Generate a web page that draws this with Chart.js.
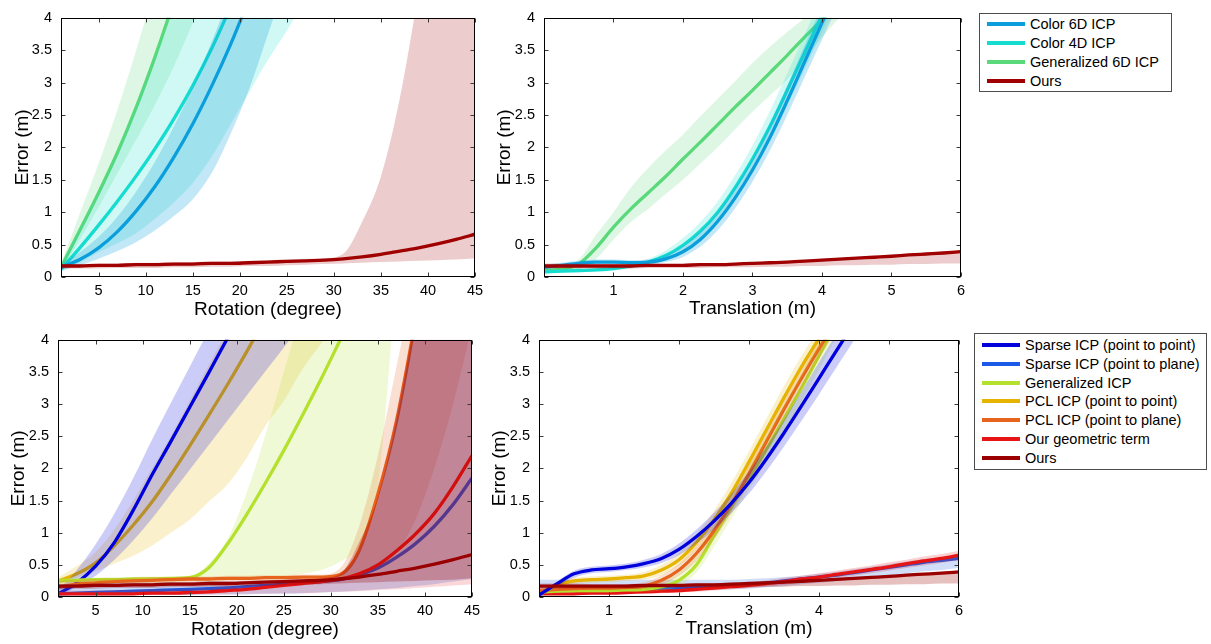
<!DOCTYPE html>
<html>
<head>
<meta charset="utf-8">
<title>Registration error vs. initial offset</title>
<script src="https://cdn.jsdelivr.net/npm/chart.js@4.4.1/dist/chart.umd.min.js"></script>
<style>
  body { margin: 0; width: 1211px; height: 644px; background: #fff; position: relative; overflow: hidden;
         font-family: "Liberation Sans", Arial, sans-serif; }
  canvas { position: absolute; }
  .legend { position: absolute; border: 1px solid #4d4d4d; background: #fff; box-sizing: border-box; }
  .legend .item { position: absolute; left: 7px; height: 18px; line-height: 18px; display: flex; align-items: center;
                  font-size: 14.5px; color: #000; white-space: nowrap; }
  .legend .swatch { width: 38px; height: 4px; margin-right: 5px; flex: none; }
</style>
</head>
<body>
<canvas id="rotTop" width="490" height="322" style="left:0;top:0"></canvas>
<canvas id="traTop" width="490" height="322" style="left:480px;top:0"></canvas>
<canvas id="rotBottom" width="490" height="322" style="left:0;top:322px"></canvas>
<canvas id="traBottom" width="490" height="322" style="left:480px;top:322px"></canvas>
<div class="legend" id="legendTop" style="left:979px;top:13px;width:193px;height:79px"></div>
<div class="legend" id="legendBottom" style="left:974px;top:333px;width:233px;height:137px"></div>

<script>
// x grids and tick labels
const ROT = [1, 3, 5, 7, 9, 11, 13, 15, 17, 19, 21, 23, 25, 27, 29, 31, 33, 35, 37, 39, 41, 43, 45];
const TRA = [0, 0.25, 0.5, 0.75, 1, 1.25, 1.5, 1.75, 2, 2.25, 2.5, 2.75, 3, 3.25, 3.5, 3.75, 4, 4.25, 4.5, 4.75, 5, 5.25, 5.5, 5.75, 6];
const ROT_TICKS = [5, 10, 15, 20, 25, 30, 35, 40, 45];
const TRA_TICKS = [1, 2, 3, 4, 5, 6];
const ERR_TICKS = [0, 0.5, 1, 1.5, 2, 2.5, 3, 3.5, 4];

// colours
const C6 = '#0a9fdc', C4 = '#14dccf', G6 = '#5ad97a', OURS = '#a00000';
const SP = '#0000dc', SL = '#1a5ae6', GI = '#b4e12d', PP = '#e6b400', PL = '#e6641e', GT = '#e61414', OURS2 = '#9b0000';

// ---- top left: rotation, colour methods ----
const c6RotMean = [0.15, 0.27, 0.45, 0.7, 1.02, 1.4, 1.85, 2.36, 2.94, 3.58, 4.29];
const c6RotLo = [0.1, 0.18, 0.28, 0.4, 0.54, 0.72, 0.94, 1.2, 1.6, 2.2, 2.9, 3.75, 4.6];
const c6RotHi = [0.2, 0.38, 0.62, 0.93, 1.32, 1.78, 2.32, 2.93, 3.62, 4.38, 5.2, 6.1, 7.0];
const c4RotMean = [0.12, 0.45, 0.8, 1.17, 1.56, 1.98, 2.44, 2.95, 3.52, 4.16];
const c4RotLo = [0.08, 0.22, 0.38, 0.52, 0.68, 0.9, 1.15, 1.45, 1.85, 2.35, 2.85, 3.35, 3.8, 4.3];
const c4RotHi = [0.18, 0.72, 1.28, 1.9, 2.6, 3.36, 4.18, 5.0, 5.8, 6.6, 7.4, 8.2, 9.0, 9.8];
const g6RotMean = [0.15, 0.72, 1.3, 1.92, 2.62, 3.4, 4.25];
const g6RotLo = [0.1, 0.58, 1.08, 1.6, 2.12, 2.66, 3.25, 3.92, 4.6];
const g6RotHi = [0.2, 0.98, 1.75, 2.58, 3.5, 4.5, 5.5, 6.5, 7.5];
const oursRotMean = [0.17, 0.17, 0.18, 0.18, 0.19, 0.19, 0.2, 0.2, 0.21, 0.21, 0.22, 0.23, 0.24, 0.25, 0.26, 0.28, 0.31, 0.35, 0.4, 0.45, 0.51, 0.58, 0.66];
const oursRotLo = [0.13, 0.13, 0.13, 0.14, 0.14, 0.14, 0.15, 0.15, 0.16, 0.16, 0.17, 0.17, 0.18, 0.19, 0.2, 0.21, 0.22, 0.23, 0.24, 0.25, 0.26, 0.27, 0.29];
const oursRotHi = [0.2, 0.2, 0.21, 0.21, 0.22, 0.22, 0.23, 0.23, 0.24, 0.24, 0.25, 0.26, 0.27, 0.28, 0.29, 0.36, 0.85, 1.55, 2.75, 4.4, 6.2, 8.0, 10.0];

// ---- top right: translation, colour methods ----
const c6TraMean = [0.15, 0.18, 0.21, 0.23, 0.23, 0.22, 0.23, 0.28, 0.39, 0.58, 0.86, 1.22, 1.65, 2.15, 2.72, 3.32, 3.92, 4.5];
const c6TraLo = [0.12, 0.15, 0.18, 0.2, 0.2, 0.19, 0.19, 0.23, 0.31, 0.47, 0.72, 1.06, 1.47, 1.95, 2.5, 3.08, 3.66, 4.24];
const c6TraHi = [0.19, 0.22, 0.25, 0.27, 0.27, 0.26, 0.27, 0.34, 0.48, 0.7, 1.0, 1.38, 1.83, 2.36, 2.95, 3.57, 4.18, 4.78];
const c4TraMean = [0.08, 0.09, 0.1, 0.11, 0.13, 0.17, 0.23, 0.33, 0.49, 0.71, 1.0, 1.38, 1.82, 2.32, 2.88, 3.46, 4.04];
const c4TraLo = [0.05, 0.06, 0.07, 0.08, 0.1, 0.13, 0.18, 0.26, 0.39, 0.58, 0.85, 1.2, 1.62, 2.1, 2.64, 3.2, 3.78, 4.36];
const c4TraHi = [0.11, 0.12, 0.13, 0.14, 0.17, 0.21, 0.28, 0.41, 0.6, 0.85, 1.17, 1.57, 2.03, 2.56, 3.14, 3.74, 4.34, 4.94];
const g6TraMean = [0.1, 0.12, 0.2, 0.45, 0.77, 1.05, 1.3, 1.55, 1.82, 2.08, 2.35, 2.62, 2.88, 3.15, 3.42, 3.7, 3.97, 4.25];
const g6TraLo = [0.07, 0.08, 0.12, 0.28, 0.58, 0.85, 1.05, 1.28, 1.5, 1.75, 2.0, 2.28, 2.55, 2.8, 3.05, 3.38, 3.7, 4.0, 4.3];
const g6TraHi = [0.13, 0.16, 0.27, 0.65, 1.0, 1.38, 1.68, 1.95, 2.2, 2.48, 2.75, 3.02, 3.3, 3.55, 3.78, 4.0, 4.25, 4.5, 4.75];
const oursTraMean = [0.17, 0.17, 0.17, 0.17, 0.17, 0.17, 0.18, 0.18, 0.18, 0.19, 0.19, 0.2, 0.21, 0.22, 0.23, 0.245, 0.26, 0.275, 0.29, 0.305, 0.32, 0.34, 0.355, 0.37, 0.39];
const oursTraLo = [0.13, 0.13, 0.13, 0.13, 0.13, 0.13, 0.14, 0.14, 0.14, 0.14, 0.15, 0.15, 0.15, 0.16, 0.16, 0.17, 0.17, 0.18, 0.18, 0.19, 0.19, 0.2, 0.2, 0.21, 0.21];
const oursTraHi = [0.21, 0.21, 0.21, 0.2, 0.2, 0.2, 0.2, 0.2, 0.2, 0.21, 0.21, 0.22, 0.23, 0.24, 0.25, 0.26, 0.28, 0.29, 0.31, 0.32, 0.34, 0.36, 0.37, 0.39, 0.41];

// ---- bottom left: rotation, geometric methods ----
const spRotMean = [0.05, 0.22, 0.48, 0.85, 1.35, 1.9, 2.42, 2.95, 3.48, 4.02, 4.55];
const spRotLo = [0.02, 0.15, 0.33, 0.58, 0.88, 1.22, 1.6, 1.98, 2.36, 2.74, 3.12, 3.5, 3.88, 4.26];
const spRotHi = [0.1, 0.42, 0.82, 1.3, 1.85, 2.45, 3.02, 3.58, 4.14, 4.7, 5.26, 5.82, 6.38, 6.94];
const ppRotMean = [0.25, 0.36, 0.53, 0.8, 1.12, 1.48, 1.9, 2.35, 2.82, 3.3, 3.8, 4.32];
const ppRotLo = [0.2, 0.3, 0.4, 0.52, 0.64, 0.8, 1.0, 1.2, 1.48, 1.75, 2.15, 2.65, 3.05, 3.55, 3.95, 4.4];
const ppRotHi = [0.3, 0.48, 0.7, 1.05, 1.5, 2.0, 2.5, 3.05, 3.6, 4.15, 4.7, 5.25, 5.8, 6.35, 6.9, 7.45];
const giRotMean = [0.25, 0.26, 0.27, 0.27, 0.28, 0.28, 0.29, 0.3, 0.45, 0.82, 1.27, 1.76, 2.28, 2.83, 3.4, 4.0];
const giRotLo = [0.2, 0.2, 0.21, 0.21, 0.22, 0.22, 0.23, 0.24, 0.25, 0.26, 0.28, 0.3, 0.32, 0.36, 0.42, 0.55, 0.8, 1.7, 5.0];
const giRotHi = [0.3, 0.3, 0.3, 0.31, 0.31, 0.32, 0.32, 0.33, 0.52, 0.9, 1.6, 2.5, 3.5, 4.5, 5.5, 6.5, 7.5, 8.5, 9.5];
const plRotMean = [0.15, 0.2, 0.22, 0.24, 0.25, 0.26, 0.27, 0.28, 0.28, 0.29, 0.29, 0.3, 0.3, 0.31, 0.31, 0.35, 0.72, 1.6, 2.75, 4.3];
const plRotLo = [0.1, 0.15, 0.17, 0.19, 0.2, 0.21, 0.22, 0.23, 0.23, 0.24, 0.24, 0.25, 0.25, 0.26, 0.26, 0.28, 0.32, 0.45, 0.7, 1.2, 2.0, 3.0, 4.2];
const plRotHi = [0.25, 0.27, 0.28, 0.29, 0.3, 0.31, 0.31, 0.32, 0.32, 0.33, 0.33, 0.34, 0.34, 0.35, 0.35, 0.45, 1.1, 2.2, 3.6, 5.0, 6.4, 7.8, 9.2];
const slRotMean = [0.05, 0.06, 0.07, 0.08, 0.09, 0.1, 0.11, 0.12, 0.13, 0.14, 0.16, 0.18, 0.2, 0.22, 0.24, 0.27, 0.34, 0.45, 0.62, 0.83, 1.1, 1.44, 1.85];
const slRotLo = [0.02, 0.02, 0.02, 0.02, 0.03, 0.03, 0.03, 0.03, 0.04, 0.04, 0.04, 0.05, 0.05, 0.06, 0.07, 0.08, 0.1, 0.12, 0.14, 0.17, 0.2, 0.24, 0.28];
const slRotHi = [0.2, 0.2, 0.21, 0.21, 0.22, 0.22, 0.23, 0.23, 0.24, 0.24, 0.25, 0.25, 0.26, 0.26, 0.27, 0.32, 0.7, 1.5, 2.8, 4.3, 6.0, 7.5, 9.0];
const gtRotMean = [0.05, 0.05, 0.05, 0.05, 0.05, 0.06, 0.06, 0.07, 0.08, 0.1, 0.12, 0.15, 0.18, 0.21, 0.24, 0.28, 0.36, 0.5, 0.72, 0.98, 1.3, 1.72, 2.2];
const gtRotLo = [0.03, 0.03, 0.03, 0.03, 0.03, 0.03, 0.03, 0.04, 0.04, 0.04, 0.05, 0.05, 0.06, 0.06, 0.07, 0.08, 0.09, 0.11, 0.12, 0.14, 0.16, 0.18, 0.2];
const gtRotHi = [0.1, 0.1, 0.1, 0.11, 0.11, 0.12, 0.12, 0.13, 0.14, 0.16, 0.18, 0.2, 0.23, 0.26, 0.3, 0.36, 0.75, 1.6, 2.9, 4.4, 6.0, 7.5, 9.0];

// ---- bottom right: translation, geometric methods ----
const spTraMean = [0.03, 0.2, 0.36, 0.42, 0.44, 0.47, 0.52, 0.6, 0.74, 0.94, 1.18, 1.46, 1.78, 2.15, 2.55, 2.97, 3.4, 3.83, 4.26];
const spTraLo = [0.01, 0.15, 0.3, 0.37, 0.39, 0.42, 0.46, 0.53, 0.65, 0.83, 1.05, 1.31, 1.61, 1.96, 2.34, 2.74, 3.15, 3.57, 3.99, 4.4];
const spTraHi = [0.06, 0.24, 0.41, 0.47, 0.49, 0.52, 0.58, 0.67, 0.83, 1.05, 1.31, 1.61, 1.95, 2.34, 2.76, 3.2, 3.65, 4.09, 4.53, 4.97];
const ppTraMean = [0.03, 0.18, 0.25, 0.27, 0.28, 0.3, 0.33, 0.42, 0.58, 0.85, 1.2, 1.62, 2.1, 2.6, 3.1, 3.58, 4.02, 4.45];
const ppTraLo = [0.01, 0.13, 0.2, 0.22, 0.23, 0.25, 0.27, 0.34, 0.48, 0.73, 1.06, 1.46, 1.93, 2.42, 2.92, 3.41, 3.86, 4.3];
const ppTraHi = [0.06, 0.23, 0.3, 0.32, 0.33, 0.35, 0.39, 0.5, 0.68, 0.97, 1.34, 1.78, 2.27, 2.78, 3.28, 3.75, 4.18, 4.6];
const plTraMean = [0.1, 0.12, 0.13, 0.14, 0.14, 0.15, 0.17, 0.26, 0.42, 0.68, 1.03, 1.45, 1.92, 2.42, 2.92, 3.4, 3.86, 4.3];
const plTraLo = [0.07, 0.09, 0.1, 0.1, 0.1, 0.11, 0.12, 0.19, 0.33, 0.56, 0.9, 1.3, 1.76, 2.25, 2.75, 3.23, 3.7, 4.15];
const plTraHi = [0.14, 0.16, 0.17, 0.18, 0.18, 0.2, 0.23, 0.34, 0.52, 0.8, 1.17, 1.6, 2.08, 2.59, 3.09, 3.57, 4.02, 4.45];
const giTraMean = [0.08, 0.09, 0.1, 0.1, 0.1, 0.11, 0.12, 0.16, 0.26, 0.5, 0.95, 1.4, 1.85, 2.3, 2.77, 3.25, 3.75, 4.27];
const giTraLo = [0.05, 0.06, 0.07, 0.07, 0.07, 0.08, 0.08, 0.1, 0.17, 0.38, 0.78, 1.22, 1.67, 2.11, 2.57, 3.04, 3.53, 4.04];
const giTraHi = [0.12, 0.13, 0.14, 0.14, 0.14, 0.15, 0.17, 0.24, 0.38, 0.65, 1.12, 1.58, 2.03, 2.5, 2.98, 3.47, 3.98, 4.5];
const slTraMean = [0.1, 0.1, 0.11, 0.11, 0.12, 0.12, 0.13, 0.13, 0.14, 0.15, 0.17, 0.18, 0.2, 0.22, 0.25, 0.28, 0.31, 0.34, 0.38, 0.42, 0.46, 0.5, 0.54, 0.57, 0.6];
const slTraLo = [0.06, 0.06, 0.07, 0.07, 0.07, 0.08, 0.08, 0.08, 0.09, 0.1, 0.11, 0.12, 0.13, 0.15, 0.17, 0.2, 0.22, 0.25, 0.28, 0.31, 0.34, 0.37, 0.4, 0.42, 0.45];
const slTraHi = [0.27, 0.27, 0.27, 0.27, 0.27, 0.27, 0.27, 0.27, 0.27, 0.27, 0.27, 0.27, 0.28, 0.29, 0.31, 0.33, 0.36, 0.39, 0.43, 0.47, 0.51, 0.55, 0.59, 0.62, 0.65];
const gtTraMean = [0.05, 0.05, 0.05, 0.06, 0.06, 0.07, 0.08, 0.09, 0.1, 0.12, 0.14, 0.16, 0.18, 0.21, 0.24, 0.28, 0.31, 0.35, 0.39, 0.43, 0.47, 0.52, 0.56, 0.6, 0.65];
const gtTraLo = [0.03, 0.03, 0.03, 0.04, 0.04, 0.05, 0.05, 0.06, 0.07, 0.08, 0.1, 0.12, 0.14, 0.16, 0.19, 0.22, 0.25, 0.29, 0.33, 0.37, 0.41, 0.45, 0.49, 0.53, 0.57];
const gtTraHi = [0.08, 0.08, 0.08, 0.09, 0.09, 0.1, 0.11, 0.12, 0.13, 0.15, 0.18, 0.2, 0.23, 0.26, 0.3, 0.33, 0.37, 0.41, 0.45, 0.49, 0.54, 0.58, 0.63, 0.67, 0.72];

// legends
const topLegend = [['Color 6D ICP', C6], ['Color 4D ICP', C4], ['Generalized 6D ICP', G6], ['Ours', OURS]];
const bottomLegend = [['Sparse ICP (point to point)', SP], ['Sparse ICP (point to plane)', SL], ['Generalized ICP', GI],
    ['PCL ICP (point to point)', PP], ['PCL ICP (point to plane)', PL], ['Our geometric term', GT], ['Ours', OURS2]];

const FONT = '"Liberation Sans", Arial, sans-serif';
Chart.defaults.font.family = FONT;
Chart.defaults.font.size = 14.5;
Chart.defaults.color = '#000';

function rgba(hex, a) {
    const n = parseInt(hex.slice(1), 16);
    return `rgba(${(n >> 16) & 255}, ${(n >> 8) & 255}, ${n & 255}, ${a})`;
}

function toPoints(xs, ys) {
    return ys.map((y, i) => ({ x: xs[i], y: y }));
}

// each series -> lower edge, upper edge filled to it, then the mean line
function buildDatasets(series, xs) {
    const sets = [];
    series.forEach(s => {
        sets.push({ label: s.label + ' low', data: toPoints(xs, s.lo), borderColor: 'rgba(0,0,0,0)', borderWidth: 0, fill: false });
        sets.push({ label: s.label + ' high', data: toPoints(xs, s.hi), borderColor: 'rgba(0,0,0,0)', borderWidth: 0,
            fill: '-1', backgroundColor: rgba(s.color, s.alpha) });
        sets.push({ label: s.label, data: toPoints(xs, s.mean), borderColor: s.color, borderWidth: 3.3, fill: false });
    });
    sets.forEach((d, i) => {
        d.order = -i;
        d.pointRadius = 0;
        d.cubicInterpolationMode = 'monotone';
        d.borderJoinStyle = 'round';
        d.clip = 0;
    });
    return sets;
}

// black box with inward ticks on all four sides
const framePlugin = {
    id: 'frame',
    afterDraw(chart) {
        const { ctx, chartArea: a, scales: { x, y } } = chart;
        const L = Math.round(a.left) + 0.5, R = Math.round(a.right) - 0.5;
        const T = Math.round(a.top) + 0.5, B = Math.round(a.bottom) - 0.5;
        ctx.save();
        ctx.lineWidth = 1;
        ctx.strokeStyle = '#3a3a3a';
        ctx.beginPath();
        x.ticks.forEach(t => {
            const px = Math.round(x.getPixelForValue(t.value)) + 0.5;
            ctx.moveTo(px, B); ctx.lineTo(px, B - 4);
            ctx.moveTo(px, T); ctx.lineTo(px, T + 4);
        });
        y.ticks.forEach(t => {
            const py = Math.round(y.getPixelForValue(t.value)) + 0.5;
            ctx.moveTo(L, py); ctx.lineTo(L + 4, py);
            ctx.moveTo(R, py); ctx.lineTo(R - 4, py);
        });
        ctx.stroke();
        ctx.strokeStyle = '#000';
        ctx.strokeRect(L, T, R - L, B - T);
        ctx.restore();
    }
};

function makeChart(id, cfg) {
    return new Chart(document.getElementById(id), {
        type: 'line',
        data: { datasets: buildDatasets(cfg.series, cfg.xs) },
        options: {
            responsive: false,
            animation: false,
            events: [],
            layout: { padding: { left: 0, right: cfg.right, top: cfg.top, bottom: 0 } },
            plugins: { legend: { display: false }, tooltip: { enabled: false } },
            scales: {
                x: {
                    type: 'linear',
                    min: cfg.xMin,
                    max: cfg.xMax,
                    afterBuildTicks: s => { s.ticks = cfg.xTicks.map(v => ({ value: v })); },
                    afterFit: s => { s.height = cfg.xHeight; },
                    ticks: { padding: 5, maxRotation: 0, autoSkip: false, callback: v => String(v) },
                    grid: { display: false, drawTicks: false },
                    border: { display: false },
                    title: { display: true, text: cfg.xTitle, font: { size: 19 }, padding: { top: 0, bottom: cfg.xTitlePad } }
                },
                y: {
                    min: 0,
                    max: 4,
                    afterBuildTicks: s => { s.ticks = ERR_TICKS.map(v => ({ value: v })); },
                    afterFit: s => { s.width = cfg.yWidth; },
                    ticks: { padding: 9, autoSkip: false, callback: v => String(v) },
                    grid: { display: false, drawTicks: false },
                    border: { display: false },
                    title: { display: true, text: 'Error (m)', font: { size: 19 }, padding: { top: cfg.yTitlePad, bottom: 0 } }
                }
            }
        },
        plugins: [framePlugin]
    });
}

function ser(label, color, alpha, mean, lo, hi) {
    return { label, color, alpha, mean, lo, hi };
}

makeChart('rotTop', {
    xs: ROT, xMin: 1, xMax: 45, xTicks: ROT_TICKS, xTitle: 'Rotation (degree)',
    right: 15, top: 12, xHeight: 45, yWidth: 61, yTitlePad: 11, xTitlePad: 1,
    series: [
        ser('Generalized 6D ICP', G6, 0.2, g6RotMean, g6RotLo, g6RotHi),
        ser('Color 4D ICP', C4, 0.2, c4RotMean, c4RotLo, c4RotHi),
        ser('Color 6D ICP', C6, 0.25, c6RotMean, c6RotLo, c6RotHi),
        ser('Ours', OURS, 0.2, oursRotMean, oursRotLo, oursRotHi)
    ]
});

makeChart('traTop', {
    xs: TRA, xMin: 0, xMax: 6, xTicks: TRA_TICKS, xTitle: 'Translation (m)',
    right: 6, top: 12, xHeight: 45, yWidth: 64, yTitlePad: 13.5, xTitlePad: 1.5,
    series: [
        ser('Generalized 6D ICP', G6, 0.2, g6TraMean, g6TraLo, g6TraHi),
        ser('Color 4D ICP', C4, 0.2, c4TraMean, c4TraLo, c4TraHi),
        ser('Color 6D ICP', C6, 0.25, c6TraMean, c6TraLo, c6TraHi),
        ser('Ours', OURS, 0.2, oursTraMean, oursTraLo, oursTraHi)
    ]
});

makeChart('rotBottom', {
    xs: ROT, xMin: 1, xMax: 45, xTicks: ROT_TICKS, xTitle: 'Rotation (degree)',
    right: 18, top: 10, xHeight: 47, yWidth: 58, yTitlePad: 7, xTitlePad: 3,
    series: [
        ser('PCL ICP (point to point)', PP, 0.2, ppRotMean, ppRotLo, ppRotHi),
        ser('Sparse ICP (point to point)', SP, 0.2, spRotMean, spRotLo, spRotHi),
        ser('Generalized ICP', GI, 0.2, giRotMean, giRotLo, giRotHi),
        ser('PCL ICP (point to plane)', PL, 0.2, plRotMean, plRotLo, plRotHi),
        ser('Sparse ICP (point to plane)', SL, 0.22, slRotMean, slRotLo, slRotHi),
        ser('Our geometric term', GT, 0.17, gtRotMean, gtRotLo, gtRotHi),
        ser('Ours', OURS2, 0.27, oursRotMean, oursRotLo, oursRotHi)
    ]
});

makeChart('traBottom', {
    xs: TRA, xMin: 0, xMax: 6, xTicks: TRA_TICKS, xTitle: 'Translation (m)',
    right: 11, top: 10, xHeight: 47, yWidth: 59, yTitlePad: 8.5, xTitlePad: 4,
    series: [
        ser('Sparse ICP (point to plane)', SL, 0.2, slTraMean, slTraLo, slTraHi),
        ser('Our geometric term', GT, 0.2, gtTraMean, gtTraLo, gtTraHi),
        ser('Generalized ICP', GI, 0.2, giTraMean, giTraLo, giTraHi),
        ser('PCL ICP (point to plane)', PL, 0.2, plTraMean, plTraLo, plTraHi),
        ser('PCL ICP (point to point)', PP, 0.2, ppTraMean, ppTraLo, ppTraHi),
        ser('Sparse ICP (point to point)', SP, 0.2, spTraMean, spTraLo, spTraHi),
        ser('Ours', OURS2, 0.25, oursTraMean, oursTraLo, oursTraHi)
    ]
});

// HTML legends
function buildLegend(id, items, firstCenter, step) {
    const box = document.getElementById(id);
    items.forEach(([label, color], i) => {
        const row = document.createElement('div');
        row.className = 'item';
        row.style.top = (firstCenter + i * step - 1 - 9) + 'px';
        row.innerHTML = `<span class="swatch" style="background:${color}"></span><span>${label}</span>`;
        box.appendChild(row);
    });
}
buildLegend('legendTop', topLegend, 11, 19);
buildLegend('legendBottom', bottomLegend, 12, 18.8);
</script>
</body>
</html>
